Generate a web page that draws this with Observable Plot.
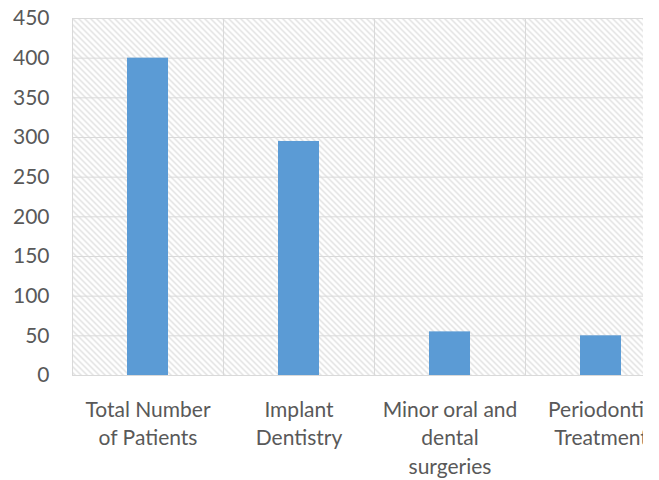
<!DOCTYPE html>
<html>
<head>
<meta charset="utf-8">
<script src="https://cdn.jsdelivr.net/npm/d3@7"></script>
<script src="https://cdn.jsdelivr.net/npm/@observablehq/plot@0.6"></script>
<style>
  html, body { margin: 0; padding: 0; background: #fff; }
  #wrap { width: 643px; height: 480px; overflow: hidden; }
  #wrap svg { max-width: none !important; }
</style>
</head>
<body>
<div id="wrap"></div>
<script>
const categories = ["Total Number\nof Patients", "Implant\nDentistry", "Minor oral and\ndental\nsurgeries", "Periodontic\nTreatment"];
const patients = [400, 295, 55, 50];
const yTicks = [0, 50, 100, 150, 200, 250, 300, 350, 400, 450];

const data = categories.map((c, i) => ({category: c, value: patients[i]}));

const W = 676, ML = 72, MR = 0;
const step = (W - ML - MR) / categories.length;
const barW = 41;
const inset = (step - barW) / 2;

const chart = Plot.plot({
  width: W,
  height: 480,
  marginLeft: ML,
  marginRight: MR,
  marginTop: 18,
  marginBottom: 105,
  style: {fontFamily: "Lato, 'Open Sans', sans-serif", fontSize: "21px", color: "#595959", background: "#fff", maxWidth: "none"},
  x: {domain: categories, padding: 0, label: null, axis: null},
  y: {domain: [0, 450], ticks: yTicks, label: null, axis: null},
  marks: [
    Plot.frame({fill: "url(#hatch)", stroke: "none"}),
    Plot.gridY(yTicks, {stroke: "#d9d9d9", strokeOpacity: 1, strokeWidth: 1}),
    Plot.ruleX(categories, {x: d => d, dx: -step / 2, stroke: "#d9d9d9", strokeWidth: 1}),
    Plot.ruleY([0], {stroke: "#d9d9d9", strokeWidth: 1}),
    Plot.barY(data, {x: "category", y: "value", fill: "#5b9bd5", insetLeft: inset, insetRight: inset}),
    Plot.axisY(yTicks, {tickSize: 0, tickPadding: 23, fill: "#595959", fontSize: 21, label: null}),
    Plot.axisX({tickSize: 0, tickPadding: 21, fill: "#595959", fontSize: 21, lineHeight: 1.36, label: null, textOverflow: null, lineWidth: 100})
  ]
});

const svg = d3.select(chart);
const defs = svg.insert("defs", ":first-child");
const pat = defs.append("pattern")
  .attr("id", "hatch")
  .attr("patternUnits", "userSpaceOnUse")
  .attr("width", 6).attr("height", 6);
pat.append("rect").attr("width", 6).attr("height", 6).attr("fill", "#fff");
pat.append("path").attr("d", "M-1,-1 L7,7 M-1,5 L1,7 M5,-1 L7,1")
  .attr("stroke", "#d6d6d6").attr("stroke-width", 1.1);

document.getElementById("wrap").appendChild(chart);
</script>
</body>
</html>
